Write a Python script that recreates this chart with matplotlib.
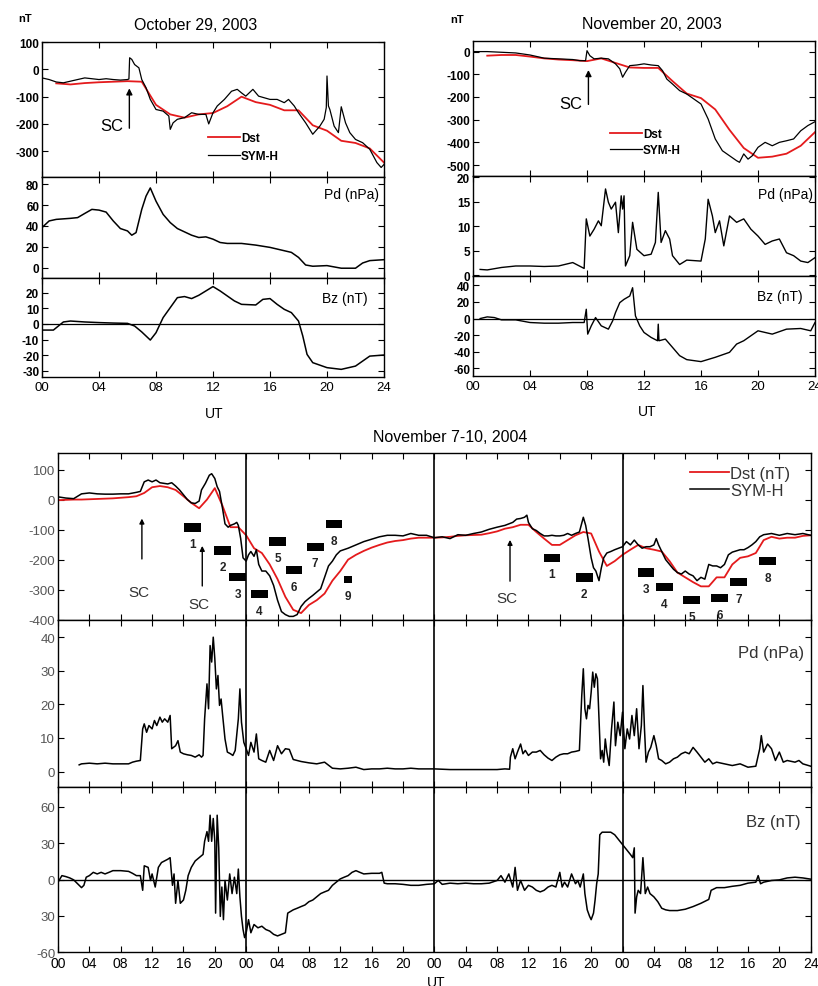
import numpy as np
import matplotlib.pyplot as plt
from matplotlib.patches import Rectangle

plt.rcParams['font.family'] = ['Liberation Sans', 'DejaVu Sans']
plt.rcParams['axes.unicode_minus'] = False

RED = '#e41a1c'
W, H = 818, 987

# ---------------- October 29, 2003 ----------------
oct_sym_t = [0, 0.5, 1, 1.5, 2, 2.5, 3, 3.5, 4, 4.5, 5, 5.5, 6, 6.1, 6.15, 6.3, 6.5, 6.8, 7.0, 7.3,
             7.6, 8.0, 8.5, 8.9, 9.0, 9.2, 9.5, 10, 10.5, 11, 11.5, 11.7, 12, 12.3, 12.8, 13.3, 13.7, 14, 14.3, 14.8,
             15.2, 15.6, 16, 16.5, 17, 17.3, 17.7, 18, 18.5, 19, 19.5, 19.8, 19.95, 20.0, 20.1, 20.2, 20.5, 20.8, 21, 21.3,
             21.6, 22, 22.5, 23, 23.5, 23.8, 24]
oct_sym = [-31, -37, -46, -49, -43, -37, -31, -34, -37, -34, -37, -39, -37, -35, 43, 37, 18, 6, -37, -67,
           -110, -147, -153, -171, -220, -196, -183, -177, -159, -165, -165, -200, -159, -134, -110, -80, -73, -86, -98, -73,
           -98, -104, -110, -110, -122, -110, -134, -159, -196, -238, -208, -183, -140, -24, -134, -147, -208, -232, -137, -196,
           -232, -257, -269, -293, -342, -360, -349]
oct_dst_t = list(range(1, 25))
oct_dst = [-51, -55, -50, -47, -45, -43, -45, -130, -165, -177, -165, -160, -135, -100, -120, -130,
           -150, -150, -205, -225, -262, -270, -290, -342]
oct_pd_t = [0, 0.5, 1, 2, 2.5, 3, 3.5, 4, 4.5, 5, 5.5, 6, 6.3, 6.6, 7, 7.3, 7.6, 8, 8.5, 9,
            9.5, 10, 10.5, 11, 11.5, 12, 12.5, 13, 14, 15, 16, 17, 17.5, 18, 18.5, 19, 20, 21, 22, 22.5,
            23, 24]
oct_pd = [38.4, 44.8, 46.3, 47.3, 48, 52, 55.9, 55.2, 53.3, 44.8, 37.5, 35.2, 31.1, 33.6, 55.9, 68.6, 76.5, 63.8, 51.1, 43.2,
          37.5, 34.3, 31.1, 28.9, 29.5, 27.3, 24.1, 23.2, 23.2, 21.6, 19.4, 16.2, 14.6, 9.8, 2.5, 1.3, 1.9, -0.6, -0.6, 4.4,
          6.7, 7.6]
oct_bz_t = [0, 0.8, 1.5, 2, 3, 4, 5, 6, 6.5, 7, 7.6, 8, 8.5, 9, 9.5, 10, 10.5, 11, 11.5, 12,
            12.5, 13, 13.5, 14, 15, 15.5, 16, 16.5, 17, 17.5, 18, 18.3, 18.6, 19, 20, 21, 22, 22.5, 23, 24]
oct_bz = [-3.9, -3.9, 1.3, 1.9, 1.3, 0.9, 0.6, 0.4, -1.3, -5.1, -10.3, -5.6, 4.1, 10.5, 16.9, 17.6, 16.3, 18.4, 21.2, 24,
          21.2, 18, 14.8, 12.6, 12.2, 15.8, 16.3, 12.6, 9.4, 7.3, 1.9, -7.7, -19.5, -24.8, -28, -29.1, -27, -23.8, -20.6, -19.9]

# ---------------- November 20, 2003 ----------------
nov_sym_t = [0, 1, 2, 3, 4, 5, 6, 7, 7.5, 7.9, 8.0, 8.2, 8.5, 9, 9.5, 10, 10.3, 10.5, 10.7, 11,
             11.5, 12, 12.5, 13, 13.3, 13.6, 14, 14.5, 15, 15.5, 16, 16.5, 17, 17.5, 18, 18.5, 18.7, 19, 19.3, 19.6,
             20, 20.5, 21, 21.5, 22, 22.5, 23, 23.5, 24]
nov_sym = [0, 0, -3, -6, -15, -29, -32, -35, -40, -40, 4, -18, -32, -29, -32, -54, -76, -113, -91, -62,
           -59, -54, -59, -62, -84, -121, -143, -172, -187, -209, -231, -297, -385, -437, -459, -481, -488, -451, -474, -459,
           -422, -400, -415, -400, -393, -385, -349, -326, -309]
nov_dst_t = list(range(1, 25))
nov_dst = [-18, -15, -15, -22, -30, -35, -38, -42, -30, -50, -70, -72, -72, -130, -185, -205,
           -255, -345, -425, -468, -463, -450, -415, -355]
nov_pd_t = [0.5, 1, 2, 3, 4, 5, 6, 7, 7.8, 7.95, 8.2, 8.5, 8.8, 9.0, 9.3, 9.5, 9.7, 10, 10.2, 10.4,
            10.5, 10.6, 10.7, 11, 11.2, 11.5, 12, 12.5, 12.8, 13, 13.2, 13.5, 13.8, 14, 14.5, 15, 16, 16.3, 16.5, 16.8,
            17, 17.3, 17.6, 18, 18.5, 19, 19.5, 20, 20.5, 21, 21.5, 22, 22.5, 23, 23.5, 24]
nov_pd = [1.2, 1.1, 1.6, 1.9, 1.9, 1.8, 1.9, 2.6, 1.4, 11.5, 8, 9.4, 11.1, 10.1, 17.6, 14.9, 13.5, 14.9, 8.7, 16.2,
          13.5, 16.2, 1.9, 4, 10.8, 5.3, 4, 4.3, 6.7, 16.9, 6.7, 9.1, 7.4, 4, 2.2, 3.1, 2.9, 7.4, 15.5, 12.1,
          8.7, 11.1, 6, 12.1, 10.8, 11.5, 9.4, 8, 6.3, 7, 7.4, 4.6, 4, 2.9, 2.6, 3.6]
nov_bz_t = [0.5, 1, 1.5, 2, 3, 4, 5, 6, 7, 7.8, 7.95, 8.05, 8.3, 8.6, 9, 9.5, 9.8, 10, 10.3, 10.6,
            11, 11.2, 11.4, 11.7, 12, 12.5, 12.95, 13.0, 13.05, 13.5, 14, 14.5, 15, 16, 17, 18, 18.5, 19, 20, 21,
            22, 23, 23.7, 24]
nov_bz = [0, 2, 1.2, -1.6, -1.6, -4.8, -5.6, -5.6, -4.8, -4.8, 11.2, -18.8, -8.8, 1.2, -8.8, -12.8, -2.8, 7.2, 19.2, 23.2,
          27.2, 37.2, 3.2, -8.8, -16.8, -22.8, -26.8, -6.8, -26.8, -24.8, -34.8, -44.8, -49.6, -52, -46.8, -40.8, -30.8, -26.8, -14.8, -18.8,
          -12.8, -12, -14.8, -4.8]

# ---------------- November 7-10, 2004 (hours from Nov 7 00 UT) ----------------
sto_sym_t = [0, 1, 2, 3, 4, 5, 6, 7, 8, 9, 10, 10.5, 11, 11.5, 12, 12.5, 13, 13.5, 14, 14.5,
             15, 15.5, 16, 16.5, 17, 17.5, 18, 18.3, 18.8, 19.3, 19.6, 20, 20.3, 20.6, 21, 21.3, 21.7, 22, 22.5, 22.8,
             23, 23.3, 23.6, 24, 24.3, 24.6, 25, 25.3, 25.6, 26, 26.5, 27, 27.5, 28, 28.5, 29, 29.5, 30, 30.5, 31,
             31.5, 32, 32.5, 33, 33.5, 34, 34.5, 35, 35.5, 36, 37, 38, 39, 40, 41, 42, 43, 44, 45, 46,
             47, 48, 49, 50, 51, 52, 53, 54, 55, 56, 57, 58, 58.5, 59, 59.5, 59.8, 60, 60.5, 61, 61.5,
             62, 62.5, 63, 63.5, 64, 64.5, 65, 65.5, 66, 66.5, 67, 67.3, 67.6, 68, 68.3, 68.6, 69, 69.3, 69.6, 70,
             70.5, 71, 71.5, 72, 72.5, 73, 73.5, 74, 74.5, 75, 75.5, 76, 76.3, 76.6, 77, 77.5, 78, 78.5, 79, 79.5,
             80, 80.5, 81, 81.5, 82, 82.5, 83, 83.5, 84, 84.5, 85, 85.5, 86, 86.5, 87, 87.5, 88, 88.5, 89, 89.5,
             90, 91, 92, 93, 94, 95, 96]
sto_sym = [9, 5, 3, 19, 22, 19, 18, 18, 19, 19, 24, 27, 59, 65, 59, 65, 56, 54, 52, 56,
           45, 32, 16, 0, -11, -13, -5, 32, 54, 81, 86, 70, 43, 27, -32, -81, -92, -86, -81, -76,
           -86, -130, -194, -205, -184, -173, -189, -167, -216, -238, -238, -254, -286, -335, -373, -383, -389, -389, -383, -356,
           -340, -329, -319, -308, -297, -259, -221, -205, -184, -171, -162, -151, -140, -132, -124, -119, -119, -121, -113, -119,
           -119, -127, -124, -130, -117, -119, -113, -108, -99, -92, -86, -76, -65, -63, -59, -52, -76, -97, -103, -113,
           -121, -121, -119, -121, -121, -119, -113, -119, -113, -108, -59, -86, -130, -194, -227, -238, -270, -227, -194, -178,
           -173, -167, -162, -157, -140, -151, -135, -151, -162, -157, -157, -151, -130, -151, -173, -200, -216, -232, -243, -248,
           -238, -248, -254, -270, -259, -265, -216, -221, -221, -227, -216, -184, -175, -171, -167, -167, -160, -151, -140, -124,
           -117, -113, -119, -113, -117, -113, -119]
sto_dst_t = list(range(0, 97))
sto_dst = [-2, -1, 0, 0, 1, 2, 3, 4, 6, 8, 11, 22, 41, 45, 41, 32, 11, -11, -29, 0,
           38, -22, -92, -92, -119, -162, -178, -216, -265, -324, -367, -378, -351, -335, -313, -270, -238, -200, -184, -171,
           -160, -151, -143, -138, -135, -130, -127, -127, -127, -126, -124, -121, -119, -118, -117, -112, -106, -97, -92, -84,
           -84, -108, -130, -151, -151, -135, -119, -108, -113, -173, -221, -205, -184, -167, -151, -162, -167, -173, -205, -243,
           -259, -275, -289, -289, -259, -259, -216, -194, -189, -178, -135, -124, -130, -127, -127, -121, -119]
sto_pd_t = [2.7, 3, 4, 5, 6, 7, 8, 9, 9.5, 10, 10.5, 10.8, 11, 11.3, 11.6, 12, 12.3, 12.6, 13, 13.3,
            13.6, 14, 14.3, 14.5, 15, 15.3, 15.6, 16, 16.5, 17, 17.5, 18, 18.3, 18.5, 18.7, 19, 19.2, 19.4, 19.6, 19.8,
            20, 20.2, 20.4, 20.6, 20.8, 21, 21.3, 21.6, 22, 22.3, 22.6, 23, 23.2, 23.4, 23.7, 24, 24.3, 24.6, 25, 25.3,
            25.6, 26, 26.5, 27, 27.5, 28, 28.5, 29, 29.5, 30, 31, 32, 33, 34, 35, 36, 37, 38, 39, 40,
            41, 42, 43, 44, 45, 46, 47, 48, 50, 52, 54, 56, 57, 57.6, 57.7, 58, 58.3, 58.6, 59, 59.3,
            59.6, 60, 60.5, 61, 61.5, 62, 62.5, 63, 63.5, 64, 64.5, 65, 65.5, 66, 66.5, 66.8, 67, 67.2, 67.4, 67.6,
            67.8, 68, 68.2, 68.4, 68.6, 68.8, 69, 69.2, 69.4, 69.6, 69.8, 70, 70.3, 70.6, 70.9, 71.1, 71.4, 71.7, 72, 72.3,
            72.6, 72.9, 73.2, 73.5, 73.8, 74.1, 74.4, 74.6, 74.8, 75, 75.3, 75.6, 76, 76.3, 76.6, 77, 77.5, 78, 78.5, 79,
            79.5, 80, 80.5, 81, 81.5, 82, 82.5, 83, 83.5, 84, 85, 86, 87, 88, 89, 89.5, 89.7, 90, 90.5, 91,
            91.5, 92, 92.5, 93, 94, 94.5, 95, 96]
sto_pd = [2, 2.3, 2.5, 2.3, 2.5, 2.3, 2.3, 2.3, 2.8, 3.1, 3.3, 12.7, 14.2, 11.7, 13.7, 12.7, 15.2, 13.7, 16.2, 14.7,
          15.7, 14.7, 16.7, 6.8, 7.7, 9.2, 5.8, 5.3, 5, 4.8, 4.3, 5, 4.3, 4.8, 15.7, 26.1, 18.7, 37.5, 32.6, 40,
          33.6, 24.6, 28.6, 19.7, 21.6, 16.7, 9.7, 5.8, 5.3, 4.8, 6.3, 15.7, 24.6, 14.7, 8.7, 6.8, 4.8, 8.7, 5.8, 11.2,
          3.8, 3.3, 2.8, 6.3, 3.3, 7.7, 5.3, 6.8, 6.6, 3.6, 3, 2.6, 2.3, 2.8, 1, 0.8, 1, 1.3, 0.6, 0.8,
          0.8, 1, 0.8, 0.8, 1, 0.8, 0.8, 0.8, 0.6, 0.6, 0.6, 0.6, 0.8, 0.7, 4.3, 6.8, 3.8, 5.8, 8.2, 5.3,
          6.3, 4.8, 5.8, 5.8, 6.3, 5, 4, 3.3, 4.3, 5, 5.3, 5.3, 5.8, 6, 6.3, 22.6, 30.6, 18.7, 15.7, 19.7,
          18.7, 23.6, 29.6, 25.1, 29.1, 27.6, 15.7, 3.8, 6.3, 2.8, 9.7, 5.8, 1.8, 12.7, 20.7, 7.7, 14.7, 10.7, 17.7, 6.8,
          12.7, 9.7, 16.7, 10.7, 18.7, 6.8, 13.7, 25.6, 12.7, 2.8, 5.8, 7.2, 10.7, 7.7, 3.8, 3.3, 2.3, 2.8, 3.8, 4.3,
          5.3, 5.8, 5.3, 7.2, 5.8, 4.3, 2.8, 3.8, 2.3, 2.8, 2.3, 1.8, 2.3, 1.3, 1.6, 6.8, 10.7, 5.8, 8.2, 6.8,
          3.3, 5.8, 2.8, 3.3, 2.8, 3.3, 2.3, 1.6]
sto_bz_t = [0, 0.5, 1, 1.5, 2, 2.5, 3, 3.3, 3.6, 4, 4.5, 5, 5.5, 6, 6.5, 7, 8, 9, 9.5, 10,
            10.5, 10.8, 11, 11.5, 11.8, 12, 12.4, 12.8, 13.2, 13.6, 14, 14.3, 14.6, 14.8, 15, 15.3, 15.6, 16, 16.3, 16.6,
            17, 17.5, 18, 18.5, 18.7, 19, 19.2, 19.4, 19.6, 19.8, 20, 20.1, 20.3, 20.5, 20.7, 20.9, 21.1, 21.3, 21.6, 21.9,
            22.2, 22.5, 22.8, 23, 23.2, 23.4, 23.6, 23.8, 24, 24.3, 24.6, 25, 25.5, 26, 26.5, 27, 27.5, 28, 28.5, 29,
            29.3, 30, 30.5, 31, 31.5, 32, 32.5, 33, 33.5, 34, 34.5, 35, 35.5, 36, 36.5, 37, 37.5, 38, 38.5, 39,
            40, 41, 41.3, 41.6, 42, 43, 44, 45, 46, 47, 48, 48.5, 49, 50, 51, 52, 53, 54, 55, 56,
            56.5, 57, 57.5, 58, 58.3, 58.6, 59, 59.5, 60, 60.5, 61, 61.5, 62, 62.5, 63, 63.5, 64, 64.3, 64.6, 65,
            65.5, 66, 66.3, 66.6, 67, 67.2, 67.5, 67.8, 68, 68.3, 68.5, 68.7, 68.9, 69.1, 69.4, 70, 70.5, 71, 71.5, 72,
            72.5, 73, 73.3, 73.5, 73.6, 73.8, 74, 74.3, 74.6, 74.9, 75.2, 75.5, 76, 76.5, 77, 77.5, 78, 79, 80, 81,
            82, 83, 83.3, 84, 85, 86, 87, 88, 89, 89.3, 89.6, 90, 91, 92, 93, 94, 95, 96]
sto_bz = [-2.2, 3.2, 2.4, 1.3, -0.3, -3.5, -6.7, -4.8, 1.9, 3.2, 5.9, 4.6, 5.9, 4.6, 5.9, 7.3, 7.3, 6.7, 5.1, 3.2,
          3.2, -8.9, 11.3, 10, -0.8, 4.6, -6.2, 10, 14, 15.3, 16.7, 18, -4.8, 4.6, -19.6, -0.8, -19.6, -16.9, -8.9, 3.2,
          10, 15.3, 18, 20.7, 31.5, 39.5, 31.5, 53, 31.5, 50.3, 31.5, -27.7, 53, 26, -30.4, -6.2, -33.1, -0.8, -16.9, 4.6,
          -11.6, 1.9, -11.6, 8.6, -14.3, -30.4, -41.2, -47.9, -43.9, -33.1, -43.9, -37.1, -39.8, -38.5, -41.2, -42.5, -45.2, -46.5, -45.2, -43.9,
          -27.7, -25, -23.7, -22.3, -21, -18.3, -16.9, -14.3, -11.6, -10.2, -8.9, -4.8, -2.2, 0.5, 1.9, 3.2, 5.9, 7.3, 5.9, 4.6,
          5.1, 5.1, 5.9, -3, -3.5, -3.5, -4, -4.8, -4.8, -4, -3.5, -0.8, -4, -3, -3.5, -3, -3.5, -3.5, -3, -0.8,
          3.2, -2.2, 4.6, -6.2, 10, -8.9, -0.8, -8.9, -4.8, -6.2, -8.9, -10.2, -8.9, -6.2, -4.8, -6.2, 5.9, -6.2, -2.2, -6.2,
          4.6, -3.5, -0.8, -6.2, 4.6, -11.6, -25, -30.4, -33.1, -27.7, -16.9, -3.5, 4.6, 36.9, 39, 39, 39, 36.9, 32.8, 28.8,
          24.8, 20.7, 18, 26.1, -27.7, -14.3, -8.9, -11.6, 18, -11.6, -6.2, -11.6, -14.3, -18.3, -23.7, -25, -25.6, -25.6, -24.5, -22.3,
          -19.6, -16.4, -8.9, -6.7, -6.7, -5.6, -4.8, -3, -2.2, 3.2, -3.5, -2.2, -0.8, -0.3, 1.3, 1.9, 1.3, 0.3]

# annotation bars on the 2004 Dst panel
bar_t = [17.1, 21.0, 22.9, 25.7, 28.0, 30.1, 32.8, 35.2, 37.0, 63.0, 67.1, 75.0, 77.3, 80.8, 84.4, 86.8, 90.5]
bar_v = [-93, -169, -258, -315, -139, -234, -157, -81, -266, -194, -260, -243, -292, -335, -328, -274, -205]
bar_lab = ['1', '2', '3', '4', '5', '6', '7', '8', '9', '1', '2', '3', '4', '5', '6', '7', '8']
sc_t = [10.7, 18.4, 57.65]
sc_tail = [-207, -297, -281]
sc_tip = [-54, -145, -125]
sc_text_v = [-308, -349, -328]


fig = plt.figure(figsize=(W / 100, H / 100), dpi=100)


def panel(left, top, right, bottom):
    return fig.add_axes([left / W, 1 - bottom / H, (right - left) / W, (bottom - top) / H])


def setup(ax, xmax, ylim, yticks, xlabels=None, ylabels=None, ysize=8.5, xsize=9.5,
          bold=True, ycolor='k'):
    ax.set_xlim(0, xmax)
    ax.set_ylim(*ylim)
    ax.set_xticks(range(0, xmax + 1, 4))
    ax.set_yticks(yticks)
    if ylabels is not None:
        ax.set_yticklabels(ylabels)
    ax.tick_params(direction='in', top=True, right=True, length=4, width=0.8, pad=2)
    ax.tick_params(axis='y', labelsize=ysize, labelcolor=ycolor)
    if xlabels is None:
        ax.tick_params(labelbottom=False)
    else:
        ax.set_xticklabels(xlabels)
        ax.tick_params(axis='x', labelsize=xsize, pad=3)
    if bold:
        for lab in ax.get_yticklabels():
            lab.set_fontweight('bold')
    for s in ax.spines.values():
        s.set_linewidth(1.0)


def ftext(x, y, s, **kw):
    fig.text(x / W, 1 - y / H, s, **kw)


day_labels = [f'{h:02d}' for h in range(0, 25, 4)]

# ---------- October 29, 2003 ----------
a1 = panel(42, 42.7, 384, 178)
a1.plot(oct_dst_t, oct_dst, color=RED, lw=1.3, label='Dst')
a1.plot(oct_sym_t, oct_sym, color='k', lw=0.9, label='SYM-H')
setup(a1, 24, (-395, 102), [100, 0, -100, -200, -300])
a1.annotate('', xy=(6.13, -59), xytext=(6.13, -226),
            arrowprops=dict(arrowstyle='-|>', color='k', lw=1, mutation_scale=9))
a1.text(4.93, -206, 'SC', fontsize=12, ha='center', va='center')
a1.legend(loc='upper left', bbox_to_anchor=(0.485, 0.33), frameon=False,
          handlelength=2.7, handletextpad=0.1, borderpad=0, borderaxespad=0, labelspacing=0.45,
          prop={'weight': 'bold', 'size': 8.5})

a2 = panel(42, 178, 384, 279)
a2.plot(oct_pd_t, oct_pd, color='k', lw=1.1)
setup(a2, 24, (-10, 87), [0, 20, 40, 60, 80])

a3 = panel(42, 279, 384, 378)
a3.plot(oct_bz_t, oct_bz, color='k', lw=1.1)
a3.axhline(0, color='k', lw=0.9)
setup(a3, 24, (-34, 29.5), [-30, -20, -10, 0, 10, 20], xlabels=day_labels)

ftext(196, 25, 'October 29, 2003', fontsize=11.5, ha='center', va='center')
ftext(25, 19, 'nT', fontsize=8, fontweight='bold', ha='center', va='center')
ftext(379, 195, 'Pd (nPa)', fontsize=10, ha='right', va='center')
ftext(368, 299.5, 'Bz (nT)', fontsize=10, ha='right', va='center')
ftext(214, 413.5, 'UT', fontsize=10, ha='center', va='center')

# ---------- November 20, 2003 ----------
b1 = panel(473, 41.7, 815, 176.7)
b1.plot(nov_dst_t, nov_dst, color=RED, lw=1.3, label='Dst')
b1.plot(nov_sym_t, nov_sym, color='k', lw=0.9, label='SYM-H')
setup(b1, 24, (-547, 48), [0, -100, -200, -300, -400, -500])
b1.annotate('', xy=(8.1, -69), xytext=(8.1, -245),
            arrowprops=dict(arrowstyle='-|>', color='k', lw=1, mutation_scale=9))
b1.text(6.88, -230, 'SC', fontsize=12, ha='center', va='center')
b1.legend(loc='upper left', bbox_to_anchor=(0.40, 0.35), frameon=False,
          handlelength=2.7, handletextpad=0.1, borderpad=0, borderaxespad=0, labelspacing=0.3,
          prop={'weight': 'bold', 'size': 8.5})

b2 = panel(473, 176.7, 815, 277.3)
b2.plot(nov_pd_t, nov_pd, color='k', lw=1.0)
setup(b2, 24, (-0.2, 20.3), [0, 5, 10, 15, 20])

b3 = panel(473, 277.3, 815, 376.7)
b3.plot(nov_bz_t, nov_bz, color='k', lw=1.0)
b3.axhline(0, color='k', lw=0.9)
setup(b3, 24, (-69, 51), [-60, -40, -20, 0, 20, 40], xlabels=day_labels)

ftext(652, 24.5, 'November 20, 2003', fontsize=11.5, ha='center', va='center')
ftext(457, 20, 'nT', fontsize=8, fontweight='bold', ha='center', va='center')
ftext(813, 194.5, 'Pd (nPa)', fontsize=10, ha='right', va='center')
ftext(803, 296.5, 'Bz (nT)', fontsize=10, ha='right', va='center')
ftext(647, 412.5, 'UT', fontsize=10, ha='center', va='center')

# ---------- November 7-10, 2004 ----------
storm_labels = [f'{h % 24:02d}' for h in range(0, 96, 4)] + ['24']
GRAY = '#555555'

c1 = panel(58, 454.3, 810.7, 620.7)
c1.plot(sto_dst_t, sto_dst, color=RED, lw=1.3, label='Dst (nT)')
c1.plot(sto_sym_t, sto_sym, color='k', lw=1.1, label='SYM-H')
setup(c1, 96, (-400, 154), [100, 0, -100, -200, -300, -400], ysize=9.5, bold=False, ycolor=GRAY)
for t, v, lab in zip(bar_t, bar_v, bar_lab):
    w = 1.0 if lab == '9' else 2.15
    h = 26 if lab == '9' else 28
    c1.add_patch(Rectangle((t - w / 2, v - h / 2), w, h, color='k', lw=0))
    c1.annotate(lab, (t, v), xytext=(0, -12), textcoords='offset points',
                ha='center', va='center', fontsize=8.5, fontweight='bold', color='#222222')
for t, tail, tip, tv in zip(sc_t, sc_tail, sc_tip, sc_text_v):
    c1.annotate('', xy=(t, tip), xytext=(t, tail),
                arrowprops=dict(arrowstyle='-|>', color='k', lw=1, mutation_scale=7))
    c1.text(t - 0.4, tv, 'SC', fontsize=11, ha='center', va='center', color='#333333')
c1.legend(loc='upper left', bbox_to_anchor=(0.84, 0.925), frameon=False,
          handlelength=2.3, handletextpad=0.1, borderpad=0, borderaxespad=0, labelspacing=0.15,
          prop={'size': 12}, labelcolor='#333333')

c2 = panel(58, 620.7, 810.7, 787.7)
c2.plot(sto_pd_t, sto_pd, color='k', lw=1.1)
setup(c2, 96, (-4.5, 45.2), [0, 10, 20, 30, 40], ysize=9.5, bold=False, ycolor=GRAY)

c3 = panel(58, 787.7, 810.7, 953.3)
c3.plot(sto_bz_t, sto_bz, color='k', lw=1.1)
c3.axhline(0, color='k', lw=1.0)
setup(c3, 96, (-60, 76.5), [60, 30, 0, -30, -60], ylabels=['60', '30', '0', '30', '-60'],
      xlabels=storm_labels, ysize=9.5, xsize=10, bold=False, ycolor=GRAY)

for ax in (c1, c2, c3):
    for day in (24, 48, 72):
        ax.axvline(day, color='k', lw=1.2)

ftext(450, 437.5, 'November 7-10, 2004', fontsize=11.5, ha='center', va='center')
ftext(804, 653.7, 'Pd (nPa)', fontsize=12, ha='right', va='center', color='#333333')
ftext(800.7, 822.5, 'Bz (nT)', fontsize=12, ha='right', va='center', color='#333333')
ftext(436, 983, 'UT', fontsize=10, ha='center', va='center')

fig.savefig('out.png', dpi=100)
